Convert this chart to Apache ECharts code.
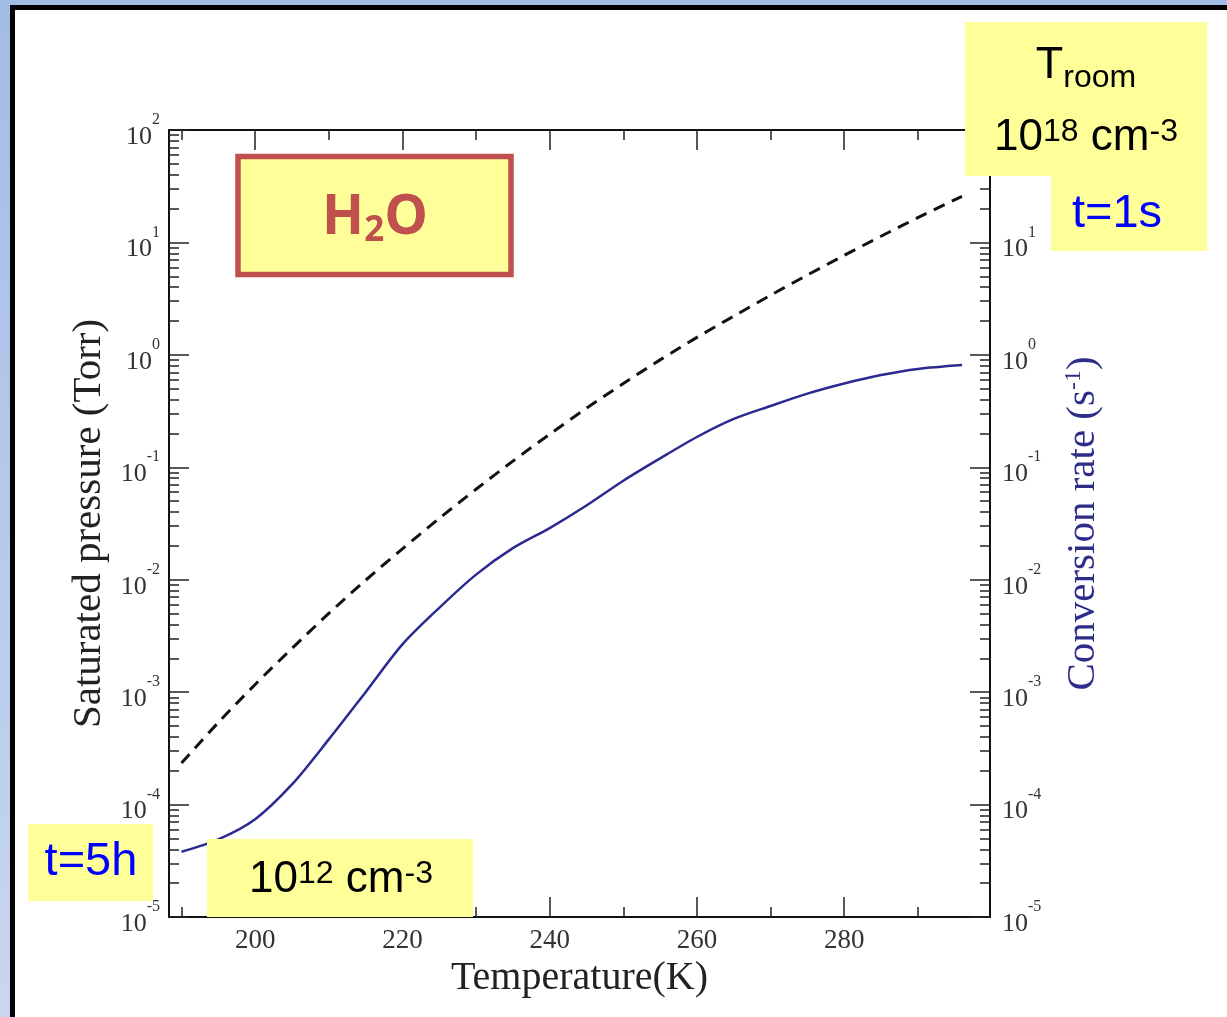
<!DOCTYPE html>
<html><head><meta charset="utf-8">
<script src="https://cdn.jsdelivr.net/npm/echarts@6/dist/echarts.min.js"></script>
<style>html,body{margin:0;padding:0;background:#fff}#c{width:1227px;height:1017px}</style>
</head><body><div id="c"></div>
<script>
// ---- data ----
const pressureTemps = [190,195,200,205,210,215,220,225,230,235,240,245,250,255,260,265,270,275,280,285,290,296];
const pressureTorr  = [2.34e-4,5.37e-4,1.17e-3,2.45e-3,5.01e-3,9.89e-3,1.88e-2,3.51e-2,6.38e-2,0.1135,0.197,0.335,0.556,0.902,1.43,2.21,3.39,5.13,7.67,11.35,16.6,25.7];
const rateTemps = [190,195,200,205,210,215,220,225,230,235,240,245,250,255,260,265,270,275,280,285,290,296];
const rateValues = [3.80e-5,4.90e-5,7.41e-5,1.51e-4,3.80e-4,1.00e-3,2.66e-3,5.62e-3,1.11e-2,1.91e-2,2.88e-2,4.57e-2,7.59e-2,0.120,0.186,0.269,0.351,0.452,0.556,0.661,0.750,0.813];
const xMajorTicks = [200,220,240,260,280];
const xMinorTicks = [190,210,230,250,270,290];
const xRange = [188.3, 299.8];
const yRange = [1e-5, 1e2];
const decadeExponents = [-5,-4,-3,-2,-1,0,1];

const SERIF = '"Liberation Serif","DejaVu Serif",serif';
const SANS = '"Liberation Sans",Arial,sans-serif';
const minorLog = [];
decadeExponents.forEach(n => { for (let k = 2; k <= 9; k++) minorLog.push(n + Math.log10(k)); });

function xAx(pos, ticks, len, label, line, name) {
  return {
    type: 'value', position: pos, min: xRange[0], max: xRange[1],
    name: name || '', nameLocation: 'middle', nameGap: 41,
    nameTextStyle: {fontFamily: SERIF, fontSize: 40, color: '#222'},
    axisLine: {show: line, onZero: false, lineStyle: {color: '#111', width: 2}},
    axisTick: {show: true, inside: true, length: len, customValues: ticks, lineStyle: {color: '#222', width: 1.5}},
    axisLabel: {show: label, customValues: xMajorTicks, fontFamily: SERIF, fontSize: 27, color: '#333', margin: 10},
    splitLine: {show: false}
  };
}
const labelRich = {
  b: {fontFamily: SERIF, fontSize: 26, color: '#333', padding: [14,0,0,0]},
  s: {fontFamily: SERIF, fontSize: 16, color: '#333', padding: [0,0,20,0]}
};
function yLog(pos, name, nameColor, nameGap) {
  return {
    type: 'log', logBase: 10, position: pos, min: yRange[0], max: yRange[1], splitNumber: 7,
    name: name, nameLocation: 'middle', nameGap: nameGap, nameRotate: 90,
    nameTextStyle: {fontFamily: SERIF, fontSize: 41, color: nameColor,
      rich: {sup: {fontFamily: SERIF, fontSize: 24, color: nameColor, padding: [0,0,18,0]}}},
    axisLine: {show: true, onZero: false, lineStyle: {color: '#111', width: 2}},
    axisTick: {show: true, inside: true, length: 20, lineStyle: {color: '#222', width: 1.5}},
    axisLabel: {show: true, margin: pos === 'left' ? 9 : 12, rich: labelRich,
      formatter: v => '{b|10}{s|' + Math.round(Math.log10(v)) + '}'},
    splitLine: {show: false}, minorTick: {show: false}
  };
}
function yMinor(pos) {
  return {
    type: 'value', position: pos, min: -5, max: 2,
    axisLine: {show: false, onZero: false}, axisLabel: {show: false}, splitLine: {show: false},
    axisTick: {show: true, inside: true, length: 10, customValues: minorLog, lineStyle: {color: '#222', width: 1.5}}
  };
}

const chart = echarts.init(document.getElementById('c'));
chart.setOption({
  animation: false,
  grid: {left: 169, top: 130, right: 237, bottom: 100},
  xAxis: [
    xAx('bottom', xMajorTicks, 20, true, true, 'Temperature(K)'),
    xAx('bottom', xMinorTicks, 10, false, false),
    xAx('top', xMajorTicks, 20, false, true),
    xAx('top', xMinorTicks, 10, false, false)
  ],
  yAxis: [
    yLog('left', 'Saturated pressure (Torr)', '#222', 58),
    yLog('right', 'Conversion rate (s{sup|-1})', '#2d2d8a', 72),
    yMinor('left'),
    yMinor('right')
  ],
  series: [
    {type: 'line', name: 'Saturated pressure', xAxisIndex: 0, yAxisIndex: 0, showSymbol: false, symbol: 'none', smooth: 0.3,
     lineStyle: {color: '#111', width: 3, type: [12, 8]},
     data: pressureTemps.map((t, i) => [t, pressureTorr[i]])},
    {type: 'line', name: 'Conversion rate', xAxisIndex: 0, yAxisIndex: 1, showSymbol: false, symbol: 'none', smooth: 0.3,
     lineStyle: {color: '#2a2a90', width: 2.5},
     data: rateTemps.map((t, i) => [t, rateValues[i]])}
  ],
  graphic: [
    {type: 'rect', z: -100, silent: true, shape: {x: 0, y: 0, width: 1227, height: 1017},
     style: {fill: new echarts.graphic.LinearGradient(0, 0, 0, 1, [{offset: 0, color: '#a3bce6'}, {offset: 1, color: '#c9d6ef'}])}},
    {type: 'rect', z: -99, silent: true, shape: {x: 12.5, y: 7.5, width: 1240, height: 1040},
     style: {fill: '#ffffff', stroke: '#000', lineWidth: 5}},
    // H2O box
    {type: 'rect', z: 100, shape: {x: 238, y: 156.5, width: 273, height: 118},
     style: {fill: '#ffff99', stroke: '#c0504d', lineWidth: 5.5}},
    {type: 'text', z: 101, x: 375, y: 218,
     style: {text: 'H{s|2}O', fontFamily: '"Open Sans",sans-serif', fontWeight: 'bold', fontSize: 55, fill: '#c0504d',
       align: 'center', verticalAlign: 'middle',
       rich: {s: {fontFamily: '"Open Sans",sans-serif', fontWeight: 'bold', fontSize: 35, fill: '#c0504d', padding: [26,0,0,0]}}}},
    // T room box
    {type: 'rect', z: 100, shape: {x: 965, y: 22, width: 242, height: 154}, style: {fill: '#ffff99'}},
    {type: 'rect', z: 100, shape: {x: 1051, y: 175, width: 156, height: 76}, style: {fill: '#ffff99'}},
    {type: 'text', z: 101, x: 1086, y: 66,
     style: {text: '{t|T}{r|room}', align: 'center', verticalAlign: 'middle',
       rich: {t: {fontFamily: SANS, fontSize: 45, fill: '#000'},
              r: {fontFamily: SANS, fontSize: 32, fill: '#000', padding: [24,0,0,0]}}}},
    {type: 'text', z: 101, x: 1086, y: 138,
     style: {text: '{m|10}{s|18}{m| cm}{s|-3}', align: 'center', verticalAlign: 'middle',
       rich: {m: {fontFamily: SANS, fontSize: 44, fill: '#000'},
              s: {fontFamily: SANS, fontSize: 32, fill: '#000', padding: [0,0,12,0]}}}},
    {type: 'text', z: 101, x: 1117, y: 214,
     style: {text: 't=1s', fontFamily: SANS, fontSize: 47, fill: '#0000ff', align: 'center', verticalAlign: 'middle'}},
    // t=5h box
    {type: 'rect', z: 100, shape: {x: 28, y: 824, width: 125, height: 77}, style: {fill: '#ffff99'}},
    {type: 'text', z: 101, x: 91, y: 862,
     style: {text: 't=5h', fontFamily: SANS, fontSize: 47, fill: '#0000ff', align: 'center', verticalAlign: 'middle'}},
    // 10^12 box
    {type: 'rect', z: 100, shape: {x: 207, y: 839, width: 266, height: 78}, style: {fill: '#ffff99'}},
    {type: 'text', z: 101, x: 341, y: 880,
     style: {text: '{m|10}{s|12}{m| cm}{s|-3}', align: 'center', verticalAlign: 'middle',
       rich: {m: {fontFamily: SANS, fontSize: 44, fill: '#000'},
              s: {fontFamily: SANS, fontSize: 32, fill: '#000', padding: [0,0,12,0]}}}}
  ]
});
</script></body></html>
